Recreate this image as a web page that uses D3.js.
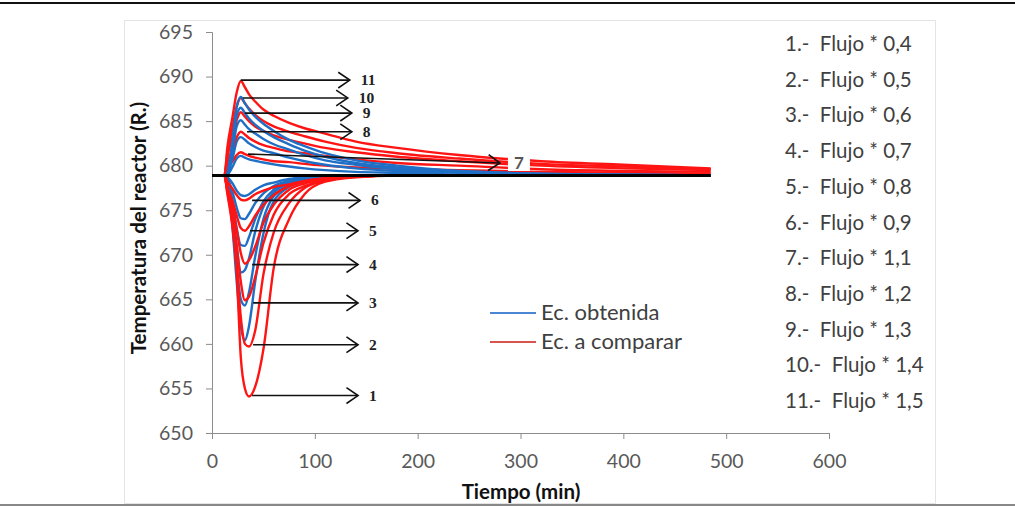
<!DOCTYPE html>
<html lang="es">
<head>
<meta charset="UTF-8">
<title>Temperatura del reactor</title>
<script src="https://d3js.org/d3.v7.min.js"></script>
<style>
  body { margin: 0; background: #fff; }
  text { font-family: Lato, "Open Sans", sans-serif; }
</style>
</head>
<body>
<svg id="chart" width="1015" height="507"></svg>
<script>
// tiempos (min) comunes a todas las series
const times = [0, 12, 15, 20, 24, 28, 32, 36, 42, 50, 60, 75, 90, 110, 140, 180, 240, 320, 400, 485];

// Ec. obtenida (azul), curvas 1..11
const obtenida = [
  [678.9, 678.9, 678.2, 673.0, 667.0, 662.0, 660.4, 662.0, 667.0, 672.4, 676.0, 677.6, 678.3, 678.7, 678.85, 678.9, 678.9, 678.9, 678.9, 678.9],
  [678.9, 678.9, 678.3, 674.0, 669.0, 665.0, 664.3, 665.8, 669.8, 674.0, 676.6, 677.8, 678.4, 678.75, 678.9, 678.9, 678.9, 678.9, 678.9, 678.9],
  [678.9, 678.9, 678.4, 675.0, 671.0, 668.0, 668.3, 669.6, 672.6, 675.4, 677.0, 678.0, 678.5, 678.8, 678.9, 678.9, 678.9, 678.9, 678.9, 678.9],
  [678.9, 678.9, 678.5, 676.0, 673.0, 671.1, 671.0, 672.0, 674.0, 676.0, 677.3, 678.2, 678.6, 678.85, 678.9, 678.9, 678.9, 678.9, 678.9, 678.9],
  [678.9, 678.9, 678.6, 677.0, 675.3, 674.1, 674.0, 674.6, 675.8, 676.9, 677.7, 678.3, 678.65, 678.85, 678.9, 678.9, 678.9, 678.9, 678.9, 678.9],
  [678.9, 678.9, 678.7, 678.0, 677.2, 676.7, 676.6, 676.8, 677.3, 677.8, 678.1, 678.5, 678.7, 678.85, 678.9, 678.9, 678.9, 678.9, 678.9, 678.9],
  [678.9, 678.9, 679.0, 679.9, 680.8, 681.1, 680.9, 680.7, 680.55, 680.35, 680.15, 679.9, 679.7, 679.5, 679.3, 679.2, 679.0, 678.9, 678.9, 678.9],
  [678.9, 678.9, 679.1, 680.8, 682.7, 683.2, 682.9, 682.5, 682.1, 681.7, 681.4, 680.9, 680.5, 680.1, 679.7, 679.4, 679.2, 679.0, 678.9, 678.9],
  [678.9, 678.9, 679.2, 681.7, 684.4, 685.1, 684.6, 684.1, 683.6, 683.0, 682.4, 681.8, 681.2, 680.6, 680.1, 679.6, 679.3, 679.0, 679.0, 678.9],
  [678.9, 678.9, 679.3, 682.3, 685.6, 686.5, 685.9, 685.3, 684.6, 683.9, 683.2, 682.4, 681.7, 681.0, 680.3, 679.8, 679.4, 679.1, 679.0, 678.9],
  [678.9, 678.9, 679.3, 682.9, 686.6, 687.7, 687.0, 686.3, 685.5, 684.7, 683.9, 682.9, 682.2, 681.4, 680.6, 680.0, 679.4, 679.1, 679.0, 678.9]
];

// Ec. a comparar (rojo), curvas 1..11
const comparar = [
  [678.9, 678.9, 676.8, 673.0, 668.0, 658.5, 655.0, 654.1, 655.2, 659.4, 668.5, 674.0, 676.8, 678.2, 678.7, 678.9, 678.9, 678.9, 678.9, 678.9],
  [678.9, 678.9, 677.0, 673.5, 668.8, 663.0, 660.0, 659.7, 661.5, 667.8, 672.5, 675.8, 677.5, 678.3, 678.75, 678.9, 678.9, 678.9, 678.9, 678.9],
  [678.9, 678.9, 677.2, 674.5, 671.0, 667.0, 664.9, 665.3, 667.5, 671.3, 674.5, 676.8, 677.7, 678.4, 678.8, 678.9, 678.9, 678.9, 678.9, 678.9],
  [678.9, 678.9, 677.4, 675.3, 672.8, 670.2, 669.0, 669.4, 670.9, 673.6, 675.6, 677.3, 678.0, 678.5, 678.8, 678.9, 678.9, 678.9, 678.9, 678.9],
  [678.9, 678.9, 677.6, 676.0, 674.4, 673.0, 672.7, 673.2, 674.4, 675.6, 676.7, 677.7, 678.2, 678.6, 678.85, 678.9, 678.9, 678.9, 678.9, 678.9],
  [678.9, 678.9, 678.2, 677.4, 676.7, 676.2, 676.1, 676.3, 676.8, 677.2, 677.6, 677.9, 678.3, 678.6, 678.8, 678.9, 678.9, 678.9, 678.9, 678.9],
  [678.9, 678.9, 679.7, 680.5, 681.2, 681.5, 681.3, 681.1, 680.9, 680.7, 680.5, 680.4, 680.2, 680.0, 679.8, 679.65, 679.5, 679.3, 679.2, 679.1],
  [678.9, 678.9, 680.4, 681.9, 683.2, 683.8, 683.5, 683.1, 682.7, 682.3, 682.0, 681.6, 681.4, 681.1, 680.7, 680.3, 680.0, 679.6, 679.4, 679.3],
  [678.9, 678.9, 681.0, 683.3, 685.1, 686.0, 685.5, 685.0, 684.4, 683.9, 683.4, 682.9, 682.5, 682.0, 681.5, 681.0, 680.5, 680.0, 679.7, 679.5],
  [678.9, 678.9, 681.5, 684.3, 686.6, 687.6, 687.0, 686.4, 685.7, 685.0, 684.4, 683.8, 683.3, 682.7, 682.0, 681.4, 680.8, 680.2, 679.9, 679.6],
  [678.9, 678.9, 682.1, 685.5, 688.2, 689.5, 688.8, 688.0, 687.2, 686.3, 685.6, 684.8, 684.2, 683.6, 682.7, 682.0, 681.2, 680.5, 680.1, 679.7]
];

// estado estacionario (linea negra)
const steady = [[0, 678.9], [485, 678.9]];

// flechas: etiqueta, inicio (t, T) y punta (t, T)
const arrows = [
  ["11", 28, 689.6, 134, 689.6],
  ["10", 30, 687.6, 132, 687.6],
  ["9", 32, 685.9, 136, 685.9],
  ["8", 34, 683.8, 136, 683.8],
  ["7", 35, 681.3, 280, 680.3],
  ["6", 39, 676.1, 144, 676.1],
  ["5", 37, 672.7, 142, 672.7],
  ["4", 39, 668.9, 142, 668.9],
  ["3", 40, 664.6, 142, 664.6],
  ["2", 40, 659.9, 142, 659.9],
  ["1", 39, 654.2, 142, 654.2]
];

const xTicks = [0, 100, 200, 300, 400, 500, 600];
const yTicks = [650, 655, 660, 665, 670, 675, 680, 685, 690, 695];
const flujoLabels = [
  "1.-  Flujo * 0,4", "2.-  Flujo * 0,5", "3.-  Flujo * 0,6", "4.-  Flujo * 0,7",
  "5.-  Flujo * 0,8", "6.-  Flujo * 0,9", "7.-  Flujo * 1,1", "8.-  Flujo * 1,2",
  "9.-  Flujo * 1,3", "10.-  Flujo * 1,4", "11.-  Flujo * 1,5"
];
const seriesNames = ["Ec. obtenida", "Ec. a comparar"];

const BLUE = "#1f6fc6", RED = "#ff1414", TXT = "#404040";

const svg = d3.select("#chart");

// marco de la imagen
svg.append("rect").attr("x", 0).attr("y", 0).attr("width", 1015).attr("height", 507).attr("fill", "#fff");
svg.append("line").attr("x1", 0).attr("x2", 1015).attr("y1", 3).attr("y2", 3)
  .attr("stroke", "#111").attr("stroke-width", 2);
svg.append("line").attr("x1", 0).attr("x2", 1015).attr("y1", 505).attr("y2", 505)
  .attr("stroke", "#888").attr("stroke-width", 2);
// area del grafico
svg.append("rect").attr("x", 124.5).attr("y", 20.5).attr("width", 811).attr("height", 483)
  .attr("fill", "none").attr("stroke", "#e4e4e4");

const x = d3.scaleLinear().domain([0, 600]).range([212, 829]);
const y = d3.scaleLinear().domain([650, 695]).range([433, 32]);

// ejes
const xAxis = svg.append("g").attr("transform", "translate(0,433)")
  .call(d3.axisBottom(x).tickValues(xTicks).tickSize(6).tickPadding(15));
const yAxis = svg.append("g").attr("transform", "translate(212,0)")
  .call(d3.axisLeft(y).tickValues(yTicks).tickSize(6).tickPadding(13));
[xAxis, yAxis].forEach(g => {
  g.select(".domain").attr("stroke", "#8c8c8c");
  g.selectAll(".tick line").attr("stroke", "#8c8c8c");
  g.selectAll(".tick text").attr("fill", "#595959")
    .style("font-family", "Lato, sans-serif").style("font-size", "19.5px");
});

svg.append("text").attr("x", 521).attr("y", 499).attr("text-anchor", "middle")
  .attr("font-weight", "bold").attr("font-size", 20.5).attr("fill", "#111")
  .text("Tiempo (min)");
svg.append("text").attr("transform", "translate(146,228) rotate(-90)").attr("text-anchor", "middle")
  .attr("font-weight", "bold").attr("font-size", 20.5).attr("fill", "#111")
  .text("Temperatura del reactor (R.)");

// curvas
const line = d3.line()
  .x((d, i) => x(times[i]))
  .y(d => y(d))
  .curve(d3.curveMonotoneX);

const curves = svg.append("g").attr("fill", "none").attr("stroke-width", 2.4);
obtenida.forEach((s, k) => {
  curves.append("path").attr("d", line(s)).attr("stroke", BLUE);
  curves.append("path").attr("d", line(comparar[k])).attr("stroke", RED);
});

// linea de estado estacionario
svg.append("path")
  .attr("d", d3.line().x(d => x(d[0])).y(d => y(d[1]))(steady))
  .attr("stroke", "#000").attr("stroke-width", 3).attr("fill", "none");

// flechas con etiquetas
const ann = svg.append("g");
arrows.forEach(a => {
  const [lab, t0, v0, t1, v1] = a;
  const x0 = x(t0), y0 = y(v0), x1 = x(t1), y1 = y(v1);
  const ang = Math.atan2(y1 - y0, x1 - x0);
  const L = 14, w = 0.6;
  ann.append("line").attr("x1", x0).attr("y1", y0).attr("x2", x1).attr("y2", y1)
    .attr("stroke", "#111").attr("stroke-width", 1.6);
  ann.append("path")
    .attr("d", `M${x1 - L * Math.cos(ang - w)},${y1 - L * Math.sin(ang - w)}L${x1},${y1}L${x1 - L * Math.cos(ang + w)},${y1 - L * Math.sin(ang + w)}`)
    .attr("fill", "none").attr("stroke", "#111").attr("stroke-width", 1.6);
  if (lab === "7") {
    ann.append("rect").attr("x", x1 + 8).attr("y", y1 - 10).attr("width", 22).attr("height", 18).attr("fill", "#fff");
    ann.append("text").attr("x", x1 + 19).attr("y", y1 + 6).attr("text-anchor", "middle")
      .attr("font-weight", "bold").attr("font-size", 17).attr("fill", "#555").text(lab);
  } else {
    ann.append("text").attr("x", x1 + 11).attr("y", y1 + 5)
      .style("font-family", "'Liberation Serif', serif")
      .attr("font-weight", "bold").attr("font-size", 15.5).attr("fill", "#222").text(lab);
  }
});

// leyenda de series
const leg = svg.append("g").attr("transform", "translate(490,313)");
seriesNames.forEach((n, i) => {
  const g = leg.append("g").attr("transform", `translate(0,${i * 29})`);
  g.append("line").attr("x1", 0).attr("x2", 46).attr("stroke", i ? "#d9534f" : "#4a86d4").attr("stroke-width", 2);
  g.append("text").attr("x", 51).attr("y", 7).attr("font-size", 22).attr("fill", TXT).text(n);
});

// lista de flujos
svg.append("g").selectAll("text").data(flujoLabels).join("text")
  .attr("x", 785).attr("y", (d, i) => 51 + i * 35.7)
  .attr("font-size", 20.5).attr("fill", TXT)
  .style("white-space", "pre")
  .text(d => d);
</script>
</body>
</html>
